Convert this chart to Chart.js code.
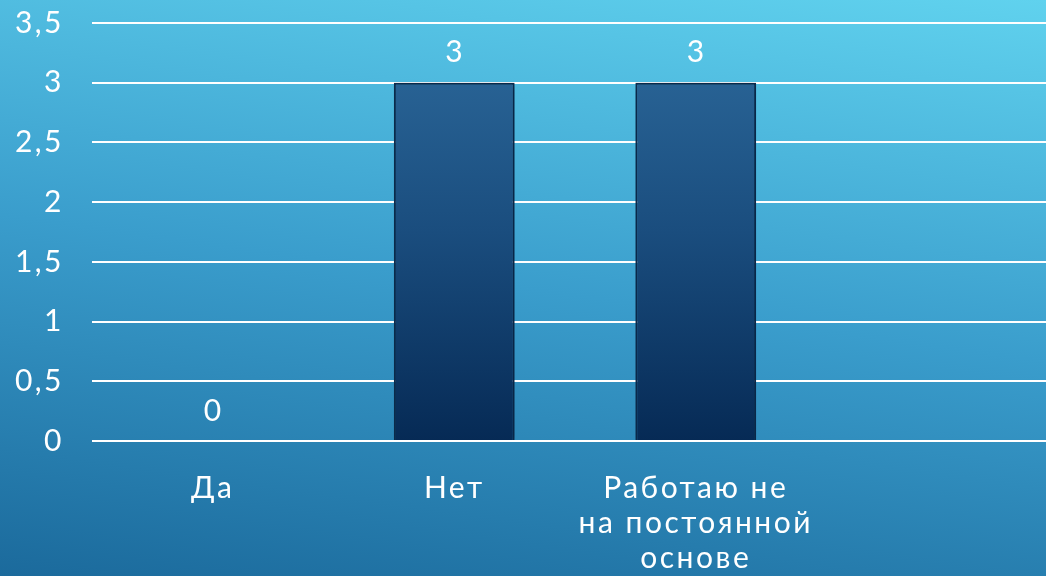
<!DOCTYPE html>
<html>
<head>
<meta charset="utf-8">
<script src="https://cdn.jsdelivr.net/npm/chart.js@4"></script>
<style>
html,body{margin:0;padding:0;width:1046px;height:576px;overflow:hidden;}
body{background:linear-gradient(8deg,#1b6a9c 0%,#3a9dcc 50%,#60d2ee 100%);}
#wrap{position:absolute;left:0;top:0;width:1058px;height:576px;}
</style>
</head>
<body>
<div id="wrap"><canvas id="c"></canvas></div>
<script>
const categories = ["Да", "Нет", ["Работаю не", "на постоянной", "основе"], ""];
const values = [0, 3, 3, null];
const yTicks = [0, 0.5, 1, 1.5, 2, 2.5, 3, 3.5];
const FONT = "Lato, 'DejaVu Sans', sans-serif";

const spacing = {
  id: 'spacing',
  beforeDraw(chart) { chart.ctx.letterSpacing = '2.5px'; }
};

const valueLabels = {
  id: 'valueLabels',
  afterDatasetsDraw(chart) {
    const ctx = chart.ctx;
    const meta = chart.getDatasetMeta(0);
    ctx.save();
    ctx.fillStyle = '#ffffff';
    ctx.font = "30px " + FONT;
    ctx.textAlign = 'center';
    ctx.textBaseline = 'middle';
    meta.data.forEach((bar, i) => {
      const v = values[i];
      if (v === null || v === undefined) return;
      ctx.fillText(String(v).replace('.', ','), bar.x + 1, bar.y - 30);
    });
    ctx.restore();
  }
};

const barShadow = {
  id: 'barShadow',
  beforeDatasetDraw(chart) {
    const ctx = chart.ctx;
    ctx.save();
    ctx.shadowColor = 'rgba(0,20,50,0.45)';
    ctx.shadowBlur = 6;
    ctx.shadowOffsetX = 1;
    ctx.shadowOffsetY = 1;
  },
  afterDatasetDraw(chart) {
    chart.ctx.restore();
  }
};

new Chart(document.getElementById('c'), {
  type: 'bar',
  data: {
    labels: categories,
    datasets: [{
      data: values,
      backgroundColor(context) {
        const ca = context.chart.chartArea;
        if (!ca) return '#1f4f80';
        const g = context.chart.ctx.createLinearGradient(0, ca.top, 0, ca.bottom);
        g.addColorStop(0, '#2d6a9c');
        g.addColorStop(0.5, '#1a4d7e');
        g.addColorStop(1, '#062a55');
        return g;
      },
      borderColor: '#0b2c4e',
      borderWidth: {left: 2, right: 2, top: 2, bottom: 0},
      borderSkipped: false,
      categoryPercentage: 1.0,
      barPercentage: 0.5
    }]
  },
  options: {
    responsive: true,
    maintainAspectRatio: false,
    animation: false,
    devicePixelRatio: 1,
    layout: {padding: {top: 23, right: 0, left: 0, bottom: 0}},
    plugins: {legend: {display: false}, tooltip: {enabled: false}},
    scales: {
      x: {
        grid: {display: false, drawTicks: false},
        border: {display: false},
        ticks: {
          color: '#ffffff',
          font: {family: FONT, size: 30, lineHeight: 1.17},
          padding: 30,
          maxRotation: 0,
          autoSkip: false
        },
        afterFit(scale) { scale.height = 135; scale.paddingLeft = 0; scale.paddingRight = 0; }
      },
      y: {
        min: 0,
        max: 3.5,
        afterBuildTicks(scale) { scale.ticks = yTicks.map(v => ({value: v})); },
        grid: {color: '#ffffff', lineWidth: 2, drawTicks: false},
        border: {display: false},
        ticks: {
          color: '#ffffff',
          font: {family: FONT, size: 30},
          padding: 28,
          callback: v => String(v).replace('.', ',')
        },
        afterFit(scale) { scale.width = 92; scale.paddingTop = 0; scale.paddingBottom = 0; }
      }
    }
  },
  plugins: [spacing, barShadow, valueLabels]
});
</script>
</body>
</html>
